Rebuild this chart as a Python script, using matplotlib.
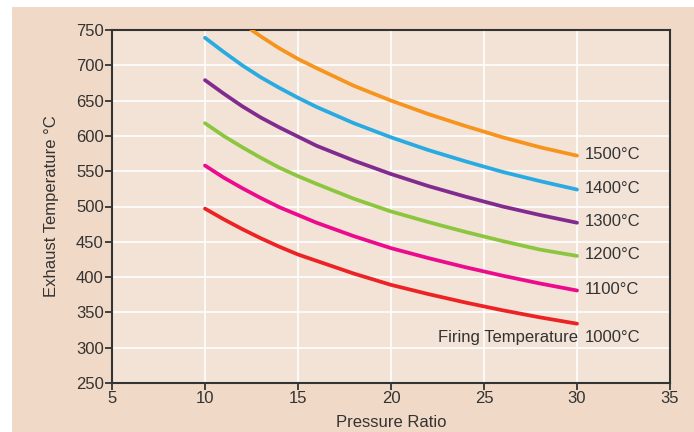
import matplotlib.pyplot as plt
from matplotlib.patches import Rectangle

plt.rcParams['font.family'] = ['Liberation Sans Narrow', 'Liberation Sans', 'DejaVu Sans']

# pressure ratio values where curves were read
pr = [10, 11, 12, 13, 14, 15, 16, 18, 20, 22, 24, 26, 28, 30]
pr_1500 = [12.5, 13, 14, 15, 16, 18, 20, 22, 24, 26, 28, 30]

# exhaust temperature (degC) for each firing temperature
t1000 = [497, 482, 468, 455, 443, 432, 423, 405, 389, 376, 364, 353, 343, 334]
t1100 = [558, 541, 526, 512, 499, 488, 477, 458, 441, 427, 414, 402, 391, 381]
t1200 = [618, 600, 584, 569, 555, 543, 532, 511, 493, 478, 464, 451, 439, 430]
t1300 = [679, 660, 642, 626, 612, 599, 586, 565, 546, 529, 514, 500, 488, 477]
t1400 = [739, 719, 700, 683, 668, 654, 641, 618, 598, 580, 564, 549, 536, 524]
t1500 = [750, 741, 724, 709, 696, 671, 650, 631, 614, 598, 584, 572]

labels = ['1000°C', '1100°C', '1200°C', '1300°C', '1400°C', '1500°C']
colors = ['#ed2224', '#ec0b8d', '#8cc63f', '#812b90', '#29abe2', '#f7941d']
fs = 12

fig = plt.figure(figsize=(6.94, 4.32), dpi=100, facecolor='white')
fig.patches.append(Rectangle((12/694, 0), 1, 1 - 7/432, transform=fig.transFigure,
                             facecolor='#f0d9c6', edgecolor='none', zorder=-10))
ax = fig.add_axes([112/694, 49/432, 558/694, 353/432])
ax.set_facecolor('#f2e3d6')

series = [(pr, t1000), (pr, t1100), (pr, t1200), (pr, t1300), (pr, t1400), (pr_1500, t1500)]
for (x, y), lb, cl in zip(series, labels, colors):
    ax.plot(x, y, color=cl, lw=2.7, solid_capstyle='round', solid_joinstyle='round',
            clip_on=True, zorder=3)
    if lb == '1000°C':
        ax.text(30.4, 315, lb, ha='left', va='center', fontsize=fs, color='#333333')
        ax.text(30.05, 315, 'Firing Temperature', ha='right', va='center',
                fontsize=fs, color='#333333')
    else:
        ax.text(30.4, y[-1] + 2, lb, ha='left', va='center', fontsize=fs, color='#333333')

ax.set_xlim(5, 35)
ax.set_ylim(250, 750)
ax.set_xticks(range(5, 36, 5))
ax.set_yticks(range(250, 751, 50))
ax.grid(True, color='white', lw=1.2, zorder=0)
ax.set_axisbelow(True)

for s in ax.spines.values():
    s.set_color('#333333')
    s.set_linewidth(1.5)
ax.tick_params(direction='out', length=5, width=1.3, color='#333333',
               labelsize=fs, labelcolor='#333333', pad=1)

ax.set_xlabel('Pressure Ratio', fontsize=fs, color='#333333', labelpad=6)
ax.set_ylabel('Exhaust Temperature °C', fontsize=fs, color='#333333', labelpad=12)

fig.savefig('out.png', dpi=100, facecolor=fig.get_facecolor())
